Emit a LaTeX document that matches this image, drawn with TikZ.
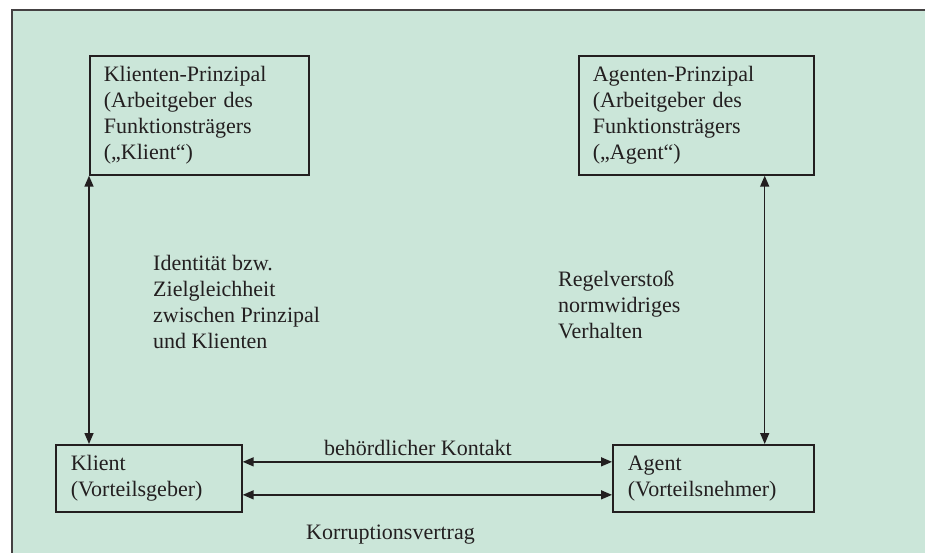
\documentclass[tikz,border=0pt]{standalone}
\usepackage{fontspec}
\setmainfont{Liberation Serif}
\usetikzlibrary{arrows.meta}
\definecolor{panelgreen}{RGB}{203,230,217}
\definecolor{inkgray}{RGB}{35,31,32}

\begin{document}
\begin{tikzpicture}[x=1pt, y=-1pt,
boxed/.style={draw=inkgray, line width=1.7pt, anchor=north west, rectangle, align=left, inner xsep=14pt, inner ysep=0pt, font=\fontsize{22}{26}\selectfont, text=inkgray},
note/.style={align=left, inner sep=0pt, font=\fontsize{22}{26}\selectfont, text=inkgray},
link/.style={draw=inkgray, line width=1.5pt, {Triangle[length=11pt,width=9pt]}-{Triangle[length=11pt,width=9pt]}}
]
\useasboundingbox (0,0) rectangle (925,553);
\fill[white] (0,0) rectangle (925,553);
\fill[panelgreen] (12,10) rectangle (925,553);
\draw[inkgray!85, line width=2pt] (12,553) -- (12,10) -- (925,10);

\node[boxed, text width=191pt, minimum width=219pt, minimum height=119pt] (kprinz) at (89,55) {Klienten-Prinzipal\\(Arbeitgeber des\\Funktionsträgers\\(„Klient“)};
\node[boxed, text width=207pt, minimum width=235pt, minimum height=119pt] (aprinz) at (578,55) {Agenten-Prinzipal\\(Arbeitgeber des\\Funktionsträgers\\(„Agent“)};
\node[boxed, inner xsep=15pt, text width=156pt, minimum width=186pt, minimum height=67pt] (klient) at (55,444) {Klient\\(Vorteilsgeber)};
\node[boxed, inner xsep=15pt, text width=171pt, minimum width=201pt, minimum height=67pt] (agent) at (612,444) {Agent\\(Vorteilsnehmer)};

\draw[link] (kprinz.south west) -- (kprinz.south west |- klient.north);
\draw[link] ([xshift=-50pt]aprinz.south east) -- ([xshift=-50pt]agent.north east);
\draw[link] ([yshift=16.5pt]klient.east) -- ([yshift=16.5pt]agent.west);
\draw[link] ([yshift=-16.5pt]klient.east) -- ([yshift=-16.5pt]agent.west);

\node[note, anchor=north west] (ident) at (153,255) {Identität bzw.\\Zielgleichheit\\zwischen Prinzipal\\und Klienten};
\node[note, anchor=north west] (regel) at (558,271) {Regelverstoß\\normwidriges\\Verhalten};
\node[note, anchor=base west] (kontakt) at (324,455) {behördlicher Kontakt};
\node[note, anchor=base west] (vertrag) at (306,539) {Korruptionsvertrag};
\end{tikzpicture}
\end{document}
